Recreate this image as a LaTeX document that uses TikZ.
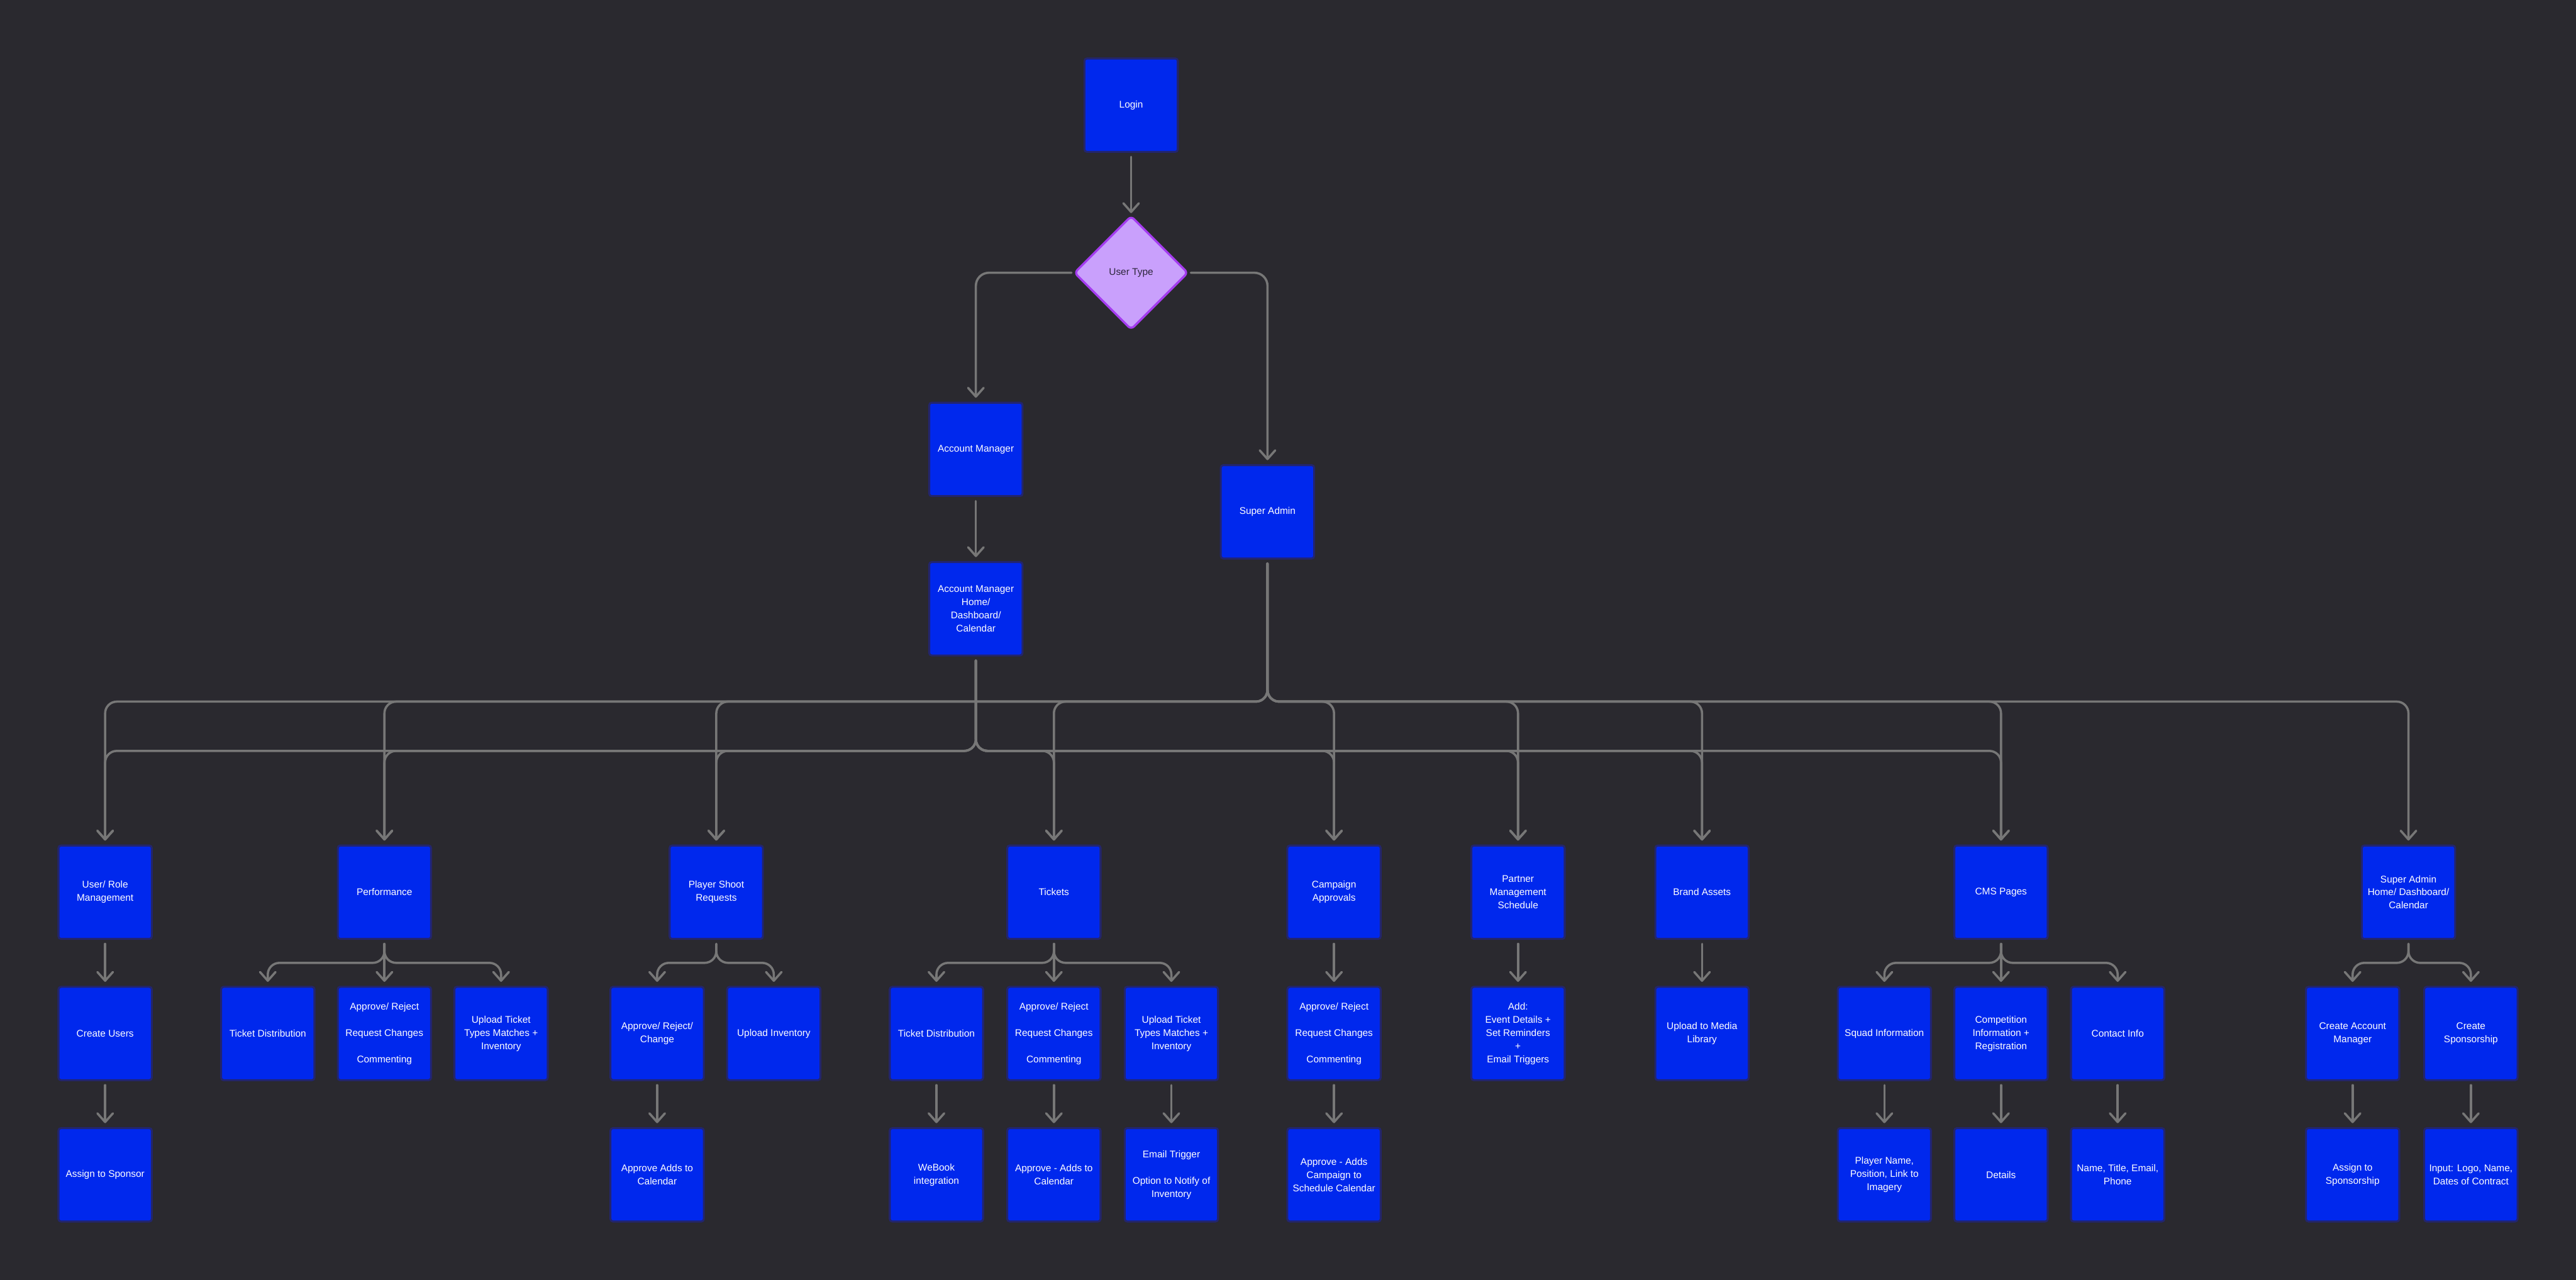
\documentclass[tikz,border=0pt]{standalone}
\usepackage{fontspec}
\setmainfont{Liberation Sans}
\usetikzlibrary{arrows.meta,shapes.geometric,calc}
\definecolor{bg}{RGB}{42,41,47}
\definecolor{boxblue}{RGB}{0,40,237}
\definecolor{boxedge}{RGB}{35,37,110}
\definecolor{conncol}{RGB}{119,119,119}
\definecolor{dfill}{RGB}{201,160,252}
\definecolor{dedge}{RGB}{165,60,240}
\definecolor{dtext}{RGB}{45,38,60}
\begin{document}
\begin{tikzpicture}[x=0.029745cm,y=-0.029745cm,
  box/.style={rectangle, fill=boxblue, draw=boxedge, line width=1pt, rounded corners=1.3pt,
    minimum width=1.69cm, minimum height=1.69cm, inner sep=0pt, outer sep=0.09cm,
    text=white, align=center, font=\fontsize{5}{6.8}\selectfont},
  dia/.style={diamond, aspect=1, fill=dfill, draw=dedge, line width=1.1pt, rounded corners=2pt,
    minimum width=2.08cm, minimum height=2.08cm, inner sep=0pt, outer sep=0.04cm,
    text=dtext, font=\fontsize{5}{6.8}\selectfont},
  conn/.style={draw=conncol, line width=1.15pt, line cap=round, line join=round,
    -{Straight Barb[length=4.5pt,width=8pt,round]}},
]
\fill[bg] (0,0) rectangle (1568,779);
\useasboundingbox (0,0) rectangle (1568,779);

% top
\node[box] (login) at (688.5,64) {Login};
\node[dia] (ut) at (688.5,166) {User Type};
\node[box] (am) at (594,273.5) {Account Manager};
\node[box] (amh) at (594,370.5) {Account Manager\\Home/\\Dashboard/\\Calendar};
\node[box] (sa) at (771.5,311.5) {Super Admin};

% row 3
\node[box] (um) at (64,543) {User/ Role\\Management};
\node[box] (perf) at (234,543) {Performance};
\node[box] (psr) at (436,543) {Player Shoot\\Requests};
\node[box] (tix) at (641.5,543) {Tickets};
\node[box] (camp) at (812,543) {Campaign\\Approvals};
\node[box] (pms) at (924,543) {Partner\\Management\\Schedule};
\node[box] (brand) at (1036,543) {Brand Assets};
\node[box] (cms) at (1218,543) {CMS Pages};
\node[box] (sah) at (1466,543) {Super Admin\\Home/ Dashboard/\\Calendar};

% row 4
\node[box] (cu) at (64,629) {Create Users};
\node[box] (ptd) at (163,629) {Ticket Distribution};
\node[box] (par) at (234,629) {Approve/ Reject\\[6.8pt]Request Changes\\[6.8pt]Commenting};
\node[box] (put) at (305,629) {Upload Ticket\\Types Matches +\\Inventory};
\node[box] (parc) at (400,629) {Approve/ Reject/\\Change};
\node[box] (pui) at (471,629) {Upload Inventory};
\node[box] (ttd) at (570,629) {Ticket Distribution};
\node[box] (tar) at (641.5,629) {Approve/ Reject\\[6.8pt]Request Changes\\[6.8pt]Commenting};
\node[box] (tut) at (713,629) {Upload Ticket\\Types Matches +\\Inventory};
\node[box] (car) at (812,629) {Approve/ Reject\\[6.8pt]Request Changes\\[6.8pt]Commenting};
\node[box] (padd) at (924,629) {Add:\\Event Details +\\Set Reminders\\+\\Email Triggers};
\node[box] (bup) at (1036,629) {Upload to Media\\Library};
\node[box] (csq) at (1147,629) {Squad Information};
\node[box] (ccomp) at (1218,629) {Competition\\Information +\\Registration};
\node[box] (ccon) at (1289,629) {Contact Info};
\node[box] (scam) at (1432,629) {Create Account\\Manager};
\node[box] (scs) at (1504,629) {Create\\Sponsorship};

% row 5
\node[box] (ats) at (64,715) {Assign to Sponsor};
\node[box] (pac) at (400,715) {Approve Adds to\\Calendar};
\node[box] (web) at (570,715) {WeBook\\integration};
\node[box] (tac) at (641.5,715) {Approve - Adds to\\Calendar};
\node[box] (tet) at (713,715) {Email Trigger\\[6.8pt]Option to Notify of\\Inventory};
\node[box] (cac) at (812,715) {Approve - Adds\\Campaign to\\Schedule Calendar};
\node[box] (cpn) at (1147,715) {Player Name,\\Position, Link to\\Imagery};
\node[box] (cdet) at (1218,715) {Details};
\node[box] (cnm) at (1289,715) {Name, Title, Email,\\Phone};
\node[box] (sas) at (1432,715) {Assign to\\Sponsorship};
\node[box] (sin) at (1504,715) {Input: Logo, Name,\\Dates of Contract};

% bus coordinates
\coordinate (busA) at (0,427);
\coordinate (busB) at (0,457);
\coordinate (forkY) at (0,586);

% top connectors
\draw[conn] (login) -- (ut);
\draw[conn, rounded corners=6.7pt] (ut.west) -| (am.north);
\draw[conn, rounded corners=6.7pt] (ut.east) -| (sa.north);
\draw[conn] (am) -- (amh);

% buses
\foreach \c in {um,perf,psr,tix,camp,pms,brand,cms,sah}
  \draw[conn, rounded corners=6pt] (sa.south) -- (sa.south |- busA) -- (\c.north |- busA) -- (\c.north);
\foreach \c in {um,perf,psr,tix,camp,pms,brand,cms}
  \draw[conn, rounded corners=6pt] (amh.south) -- (amh.south |- busB) -- (\c.north |- busB) -- (\c.north);

% forks
\foreach \p/\c in {perf/ptd,perf/put,psr/parc,psr/pui,tix/ttd,tix/tut,cms/csq,cms/ccon,sah/scam,sah/scs}
  \draw[conn, rounded corners=6pt] (\p.south) -- (\p.south |- forkY) -- (\c.north |- forkY) -- (\c.north);

% straight
\foreach \p/\c in {perf/par,tix/tar,camp/car,pms/padd,brand/bup,cms/ccomp,um/cu,cu/ats,parc/pac,ttd/web,tar/tac,tut/tet,car/cac,csq/cpn,ccomp/cdet,ccon/cnm,scam/sas,scs/sin}
  \draw[conn] (\p) -- (\c);
\end{tikzpicture}
\end{document}
